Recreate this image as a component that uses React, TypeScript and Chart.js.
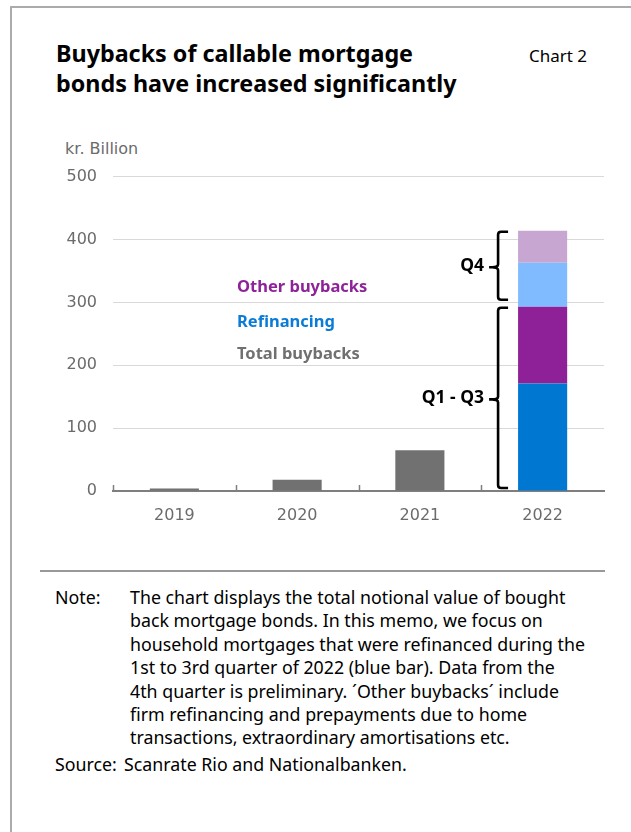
import React, { useEffect, useRef } from "react";
import { Chart, registerables } from "chart.js";

Chart.register(...registerables);

const years = ["2019", "2020", "2021", "2022"];
const totalBuybacks = [4, 18, 65, null];
const refinancingQ1Q3 = [null, null, null, 171];
const otherQ1Q3 = [null, null, null, 122];
const refinancingQ4 = [null, null, null, 70];
const otherQ4 = [null, null, null, 51];
const yTicks = [0, 100, 200, 300, 400, 500];

const FONT = "'Noto Sans', sans-serif";
const AXIS_FONT = "'DejaVu Sans', sans-serif";

const bracketPlugin = {
  id: "brackets",
  afterDatasetsDraw(chart: any) {
    const { ctx, chartArea, scales } = chart;
    const y = scales.y;
    ctx.save();
    ctx.strokeStyle = "#7f7f7f";
    ctx.lineWidth = 1.5;
    const n = years.length;
    const w = (chartArea.right - chartArea.left) / n;
    for (let i = 0; i < n; i++) {
      const xx = Math.round(chartArea.left + i * w) + 0.5;
      ctx.beginPath();
      ctx.moveTo(xx, chartArea.bottom);
      ctx.lineTo(xx, chartArea.bottom - 6);
      ctx.stroke();
    }
    ctx.restore();

    const bar = chart.getDatasetMeta(1).data[3];
    if (!bar) return;
    const barLeft = bar.x - bar.width / 2;
    const vx = barLeft - 20;
    const hx = barLeft - 10;
    const tx = barLeft - 29;
    const lo = (refinancingQ1Q3[3] || 0) + (otherQ1Q3[3] || 0);
    const hi = lo + (refinancingQ4[3] || 0) + (otherQ4[3] || 0);
    const brackets = [
      { from: 0, to: lo, label: "Q1 - Q3", insetTop: 1, insetBottom: 3 },
      { from: lo, to: hi, label: "Q4", insetTop: 1, insetBottom: 7 },
    ];
    ctx.save();
    ctx.strokeStyle = "#000";
    ctx.lineWidth = 2.6;
    ctx.lineJoin = "round";
    for (const b of brackets) {
      const top = y.getPixelForValue(b.to) + b.insetTop;
      const bottom = y.getPixelForValue(b.from) - b.insetBottom;
      const mid = (top + bottom) / 2 + 1.5;
      ctx.beginPath();
      ctx.moveTo(hx, top);
      ctx.lineTo(vx + 3, top);
      ctx.quadraticCurveTo(vx, top, vx, top + 3);
      ctx.lineTo(vx, mid - 3);
      ctx.quadraticCurveTo(vx, mid, tx + 3, mid);
      ctx.lineTo(tx, mid);
      ctx.moveTo(tx + 3, mid);
      ctx.quadraticCurveTo(vx, mid, vx, mid + 3);
      ctx.lineTo(vx, bottom - 3);
      ctx.quadraticCurveTo(vx, bottom, vx + 3, bottom);
      ctx.lineTo(hx, bottom);
      ctx.stroke();
      ctx.fillStyle = "#000";
      ctx.font = `bold 17.5px ${FONT}`;
      ctx.textAlign = "right";
      ctx.textBaseline = "middle";
      ctx.fillText(b.label, tx - 5, mid - 1);
    }
    ctx.restore();
  },
};

export default function App() {
  const ref = useRef<HTMLCanvasElement>(null);
  useEffect(() => {
    if (!ref.current) return;
    const chart = new Chart(ref.current, {
      type: "bar",
      data: {
        labels: years,
        datasets: [
          { label: "Total buybacks", data: totalBuybacks, backgroundColor: "#717171" },
          { label: "Refinancing Q1-Q3", data: refinancingQ1Q3, backgroundColor: "#0078d2" },
          { label: "Other buybacks Q1-Q3", data: otherQ1Q3, backgroundColor: "#8e2098" },
          { label: "Refinancing Q4", data: refinancingQ4, backgroundColor: "#80bbff" },
          { label: "Other buybacks Q4", data: otherQ4, backgroundColor: "#c8a6d2" },
        ] as any,
      },
      options: {
        responsive: false,
        animation: false,
        layout: { padding: { top: 0, right: 27, left: 0, bottom: 0 } },
        datasets: { bar: { categoryPercentage: 1, barPercentage: 0.4 } } as any,
        plugins: { legend: { display: false }, tooltip: { enabled: false } },
        scales: {
          x: {
            stacked: true,
            grid: { display: false, drawTicks: false },
            border: { display: true, color: "#7f7f7f", width: 2 },
            ticks: { color: "#6b6b6b", font: { family: AXIS_FONT, size: 16 }, padding: 15 },
            afterFit: (s: any) => { s.height = 49; },
          },
          y: {
            stacked: true,
            min: 0,
            max: 500,
            afterBuildTicks: (s: any) => { s.ticks = yTicks.map((v) => ({ value: v })); },
            grid: { color: "#d9d9d9", lineWidth: 1, drawTicks: false },
            border: { display: false },
            ticks: { color: "#6b6b6b", font: { family: AXIS_FONT, size: 16 }, padding: 16 },
            afterFit: (s: any) => { s.width = 113; },
          },
        },
      },
      plugins: [bracketPlugin],
    });
    return () => chart.destroy();
  }, []);

  const abs = (l: number, t: number, extra: any = {}) => ({ position: "absolute" as const, left: l, top: t, whiteSpace: "nowrap" as const, ...extra });
  const noteLines = [
    "The chart displays the total notional value of bought",
    "back mortgage bonds. In this memo, we focus on",
    "household mortgages that were refinanced during the",
    "1st to 3rd quarter of 2022 (blue bar). Data from the",
    "4th quarter is preliminary. \u00b4Other buybacks\u00b4 include",
    "firm refinancing and prepayments due to home",
    "transactions, extraordinary amortisations etc.",
  ];
  const noteStyle = { fontSize: 17.8, lineHeight: "23.4px", color: "#000" };

  return (
    <div style={{ position: "absolute", left: 0, top: 0, width: 631, height: 832, overflow: "hidden", background: "#fff", fontFamily: FONT }}>
      <div style={{ position: "absolute", left: 10, top: 6, width: 700, height: 900, borderLeft: "2px solid #ababab", borderTop: "2px solid #ababab" }} />
      <div style={abs(56, 38, { fontSize: 23.3, fontWeight: 700, lineHeight: "30px", color: "#000" })}>
        Buybacks of callable mortgage<br />bonds have increased significantly
      </div>
      <div style={abs(529, 41, { fontSize: 17, lineHeight: "30px", color: "#000" })}>Chart 2</div>
      <div style={abs(65, 134, { fontSize: 16, lineHeight: "30px", color: "#6b6b6b", fontFamily: AXIS_FONT })}>kr. Billion</div>
      <div style={abs(0, 151)}>
        <canvas ref={ref} width={631} height={389} style={{ display: "block" }} />
      </div>
      <div style={abs(237, 271, { fontSize: 16.5, fontWeight: 700, lineHeight: "30px", color: "#8e2299" })}>Other buybacks</div>
      <div style={abs(237, 306, { fontSize: 16.5, fontWeight: 700, lineHeight: "30px", color: "#0a7bd6" })}>Refinancing</div>
      <div style={abs(237, 338, { fontSize: 16.5, fontWeight: 700, lineHeight: "30px", color: "#707070" })}>Total buybacks</div>
      <div style={{ position: "absolute", left: 40, top: 570, width: 565, height: 2, background: "#999" }} />
      <div style={abs(55, 586, noteStyle)}>Note:</div>
      <div style={abs(130, 586, noteStyle)}>
        {noteLines.map((l, i) => (<div key={i}>{l}</div>))}
      </div>
      <div style={abs(55, 753, noteStyle)}>Source:</div>
      <div style={abs(124, 753, noteStyle)}>Scanrate Rio and Nationalbanken.</div>
    </div>
  );
}
